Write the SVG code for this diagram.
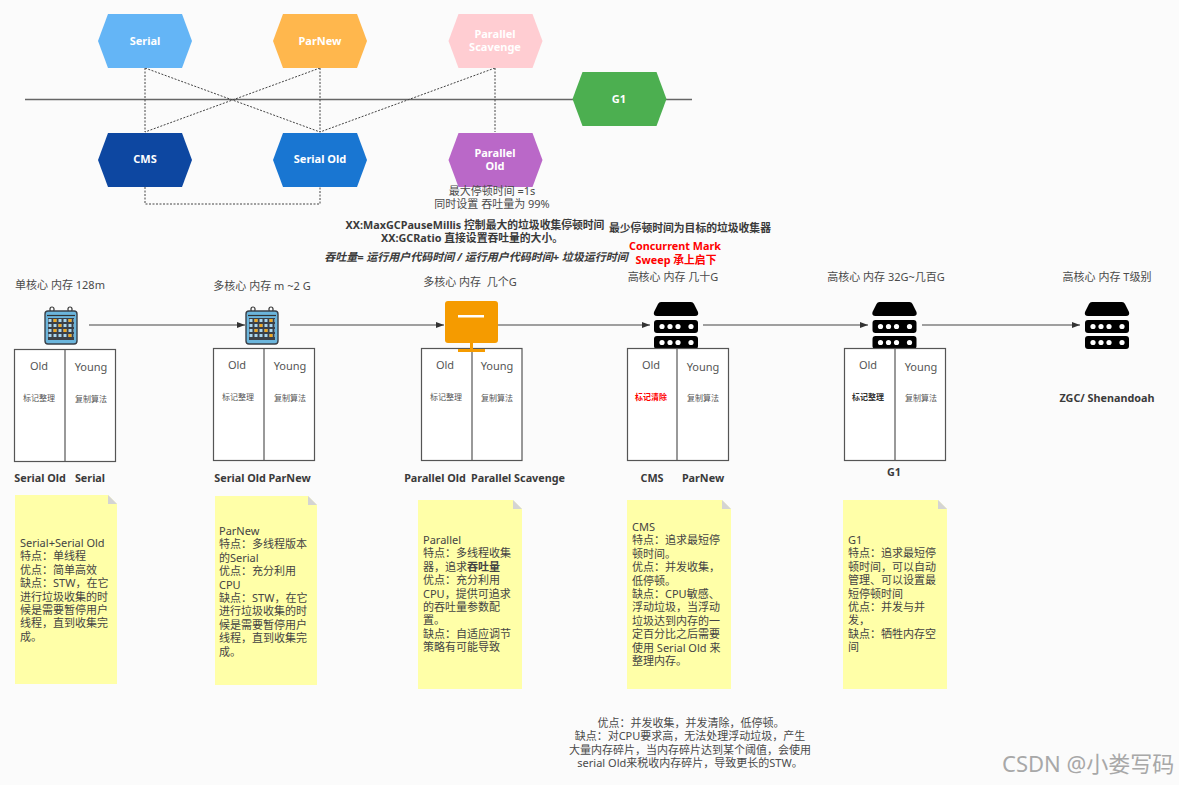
<svg xmlns="http://www.w3.org/2000/svg" width="1179" height="785" viewBox="0 0 1179 785">
<style>
text{font-family:"Noto Sans","Noto Sans CJK SC",sans-serif;fill:#4a4a4a;font-size:11px}
.c{text-anchor:middle}
.hex text{fill:#fff;font-size:11px;font-weight:700;text-anchor:middle}
.hex polygon{stroke:#fff;stroke-opacity:.5}
.b{font-weight:700;fill:#3a3a3a;text-anchor:middle;font-size:10.800px}
.mem{fill:#fff;stroke:#555;stroke-width:1.2}
.o{font-size:11px;text-anchor:middle;fill:#555}
.s{font-size:8px;text-anchor:middle;fill:#555}
.note{fill:#ffffa8}
.fold{fill:#d4d4d4}
.nt{font-size:11px;fill:#444}
.dash{fill:none;stroke:#444;stroke-width:1;stroke-dasharray:2 1.5}
.arr{stroke:#444;stroke-width:1.2;fill:none;marker-end:url(#a)}
.red{fill:#f00;font-weight:700;text-anchor:middle;font-size:10.800px}
</style>
<defs>
<marker id="a" markerWidth="8" markerHeight="6" refX="8" refY="3" orient="auto" markerUnits="userSpaceOnUse"><path d="M0 0L8 3L0 6z" fill="#333"/></marker>
<polygon id="h" points="-47,0 -37,-27 37,-27 47,0 37,27 -37,27"/>
<g id="cal">
<rect x="-11" y="-18" width="4" height="5" rx="2" fill="none" stroke="#333" stroke-width="1.2"/><rect x="7" y="-18" width="4" height="5" rx="2" fill="none" stroke="#333" stroke-width="1.2"/>
<rect x="-16" y="-14" width="32" height="33" rx="3" fill="#6bb5dc" stroke="#3a4048" stroke-width="1.4"/>
<path d="M-14-9.500H14" stroke="#333" stroke-width="1.2"/>
<rect x="-13" y="-7" width="26" height="22" fill="#3a4048"/>
<path d="M-12.500-4.500H13M-12.500 .5H13M-12.500 5.500H13M-12.500 10.500H13" stroke="#a9d6ee" stroke-width="3" stroke-dasharray="3 2"/>
<path d="M-7.500-4.500h3M-2.500 .5h3M2.500 5.500h3M7.500 10.500h3M-7.500 5.500h3M7.500-4.500h3" stroke="#f0a820" stroke-width="3"/>
</g>
<g id="srv" fill="#000">
<path d="M-15-22H15Q17-22 18-20L22-12Q23-8 19-8H-19Q-23-8-22-12L-18-20Q-17-22-15-22Z"/>
<rect x="-22" y="-4" width="44" height="13" rx="3"/>
<rect x="-22" y="12" width="44" height="13" rx="3"/>
<g fill="#fff"><circle cx="-14" cy="2.500" r="2.600"/><circle cx="-6" cy="2.500" r="2.600"/><circle cx="2" cy="2.500" r="2.600"/><circle cx="15" cy="2.500" r="2.600"/><circle cx="-14" cy="18.500" r="2.600"/><circle cx="-6" cy="18.500" r="2.600"/><circle cx="2" cy="18.500" r="2.600"/><circle cx="15" cy="18.500" r="2.600"/></g>
</g>
</defs>
<rect width="1179" height="785" fill="#fbfbfb"/>
<g id="connectors">
<path d="M25 99.500H692" stroke="#666" stroke-width="1.500" fill="none"/>
<path class="dash" d="M145 68V132M145 68L320 132M320 68L145 132M320 68V132M495 68L320 132M495 68V132M145 187V204H320V187"/>
<path class="arr" d="M89 325H245"/>
<path class="arr" d="M290 325H444"/>
<path class="arr" d="M498 325H650"/>
<path class="arr" d="M703 325H868"/>
<path class="arr" d="M922 325H1080"/>
</g>
<g id="n-serial" class="hex"><use href="#h" x="145" y="41" fill="#64b5f6"/><text x="145" y="45">Serial</text></g>
<g id="n-parnew" class="hex"><use href="#h" x="320" y="41" fill="#ffb74d"/><text x="320" y="45">ParNew</text></g>
<g id="n-scavenge" class="hex"><use href="#h" x="495.500" y="41" fill="#ffcdd2"/><text x="495" y="38">Parallel</text><text x="495" y="51">Scavenge</text></g>
<g id="n-g1" class="hex"><use href="#h" x="619.500" y="99" fill="#4caf50"/><text x="619" y="103">G1</text></g>
<g id="n-cms" class="hex"><use href="#h" x="145" y="160" fill="#0d47a1"/><text x="145" y="163">CMS</text></g>
<g id="n-serialold" class="hex"><use href="#h" x="320" y="160" fill="#1976d2"/><text x="320" y="163">Serial Old</text></g>
<g id="n-parold" class="hex"><use href="#h" x="495.500" y="160" fill="#ba68c8"/><text x="495" y="157">Parallel</text><text x="495" y="170">Old</text></g>
<g id="t-top">
<text class="c" x="492" y="195">最大停顿时间 =1s</text>
<text class="c" x="492" y="208">同时设置 吞吐量为 99%</text>
<text class="b" x="475" y="229">XX:MaxGCPauseMillis 控制最大的垃圾收集停顿时间</text>
<text class="b" x="472" y="242">XX:GCRatio 直接设置吞吐量的大小。</text>
<text class="b" x="476" y="261" font-style="italic" style="font-size:11px">吞吐量= 运行用户代码时间 / 运行用户代码时间+ 垃圾运行时间</text>
<text class="b" x="690" y="232">最少停顿时间为目标的垃圾收集器</text>
<text class="red" x="675" y="250">Concurrent Mark</text>
<text class="red" x="676" y="264">Sweep 承上启下</text>
</g>
<g id="col1">
<text class="c" x="60" y="289">单核心 内存 128m</text>
<use href="#cal" x="61" y="325"/>
<rect class="mem" x="14.500" y="349.500" width="101" height="112"/><path class="mem" d="M65 349.500V461"/>
<text class="o" x="39" y="370">Old</text><text class="o" x="91" y="371">Young</text>
<text class="s" x="39" y="401">标记整理</text><text class="s" x="91" y="402">复制算法</text>
<text class="b" x="40" y="482">Serial Old</text><text class="b" x="90" y="482">Serial</text>
<path class="note" d="M15 495H108L117 504V684H15Z"/><path class="fold" d="M108 495L117 504H108Z"/>
<text class="nt" x="20" y="547"><tspan x="20">Serial+Serial Old</tspan><tspan x="20" dy="13.400">特点&#65306;单线程</tspan><tspan x="20" dy="13.400">优点&#65306;简单高效</tspan><tspan x="20" dy="13.400">缺点&#65306;STW&#65292;在它</tspan><tspan x="20" dy="13.400">进行垃圾收集的时</tspan><tspan x="20" dy="13.400">候是需要暂停用户</tspan><tspan x="20" dy="13.400">线程&#65292;直到收集完</tspan><tspan x="20" dy="13.400">成。</tspan></text>
</g>
<g id="col2">
<text class="c" x="262" y="290">多核心 内存 m ~2 G</text>
<use href="#cal" x="262" y="325"/>
<rect class="mem" x="213.500" y="348.500" width="101" height="112"/><path class="mem" d="M264 348.500V460"/>
<text class="o" x="237" y="369">Old</text><text class="o" x="290" y="370">Young</text>
<text class="s" x="238" y="400">标记整理</text><text class="s" x="290" y="401">复制算法</text>
<text class="b" x="240" y="482">Serial Old</text><text class="b" x="289.500" y="482">ParNew</text>
<path class="note" d="M215 496H308L317 505V685H215Z"/><path class="fold" d="M308 496L317 505H308Z"/>
<text class="nt" x="219" y="535"><tspan x="219">ParNew</tspan><tspan x="219" dy="13.400">特点&#65306;多线程版本</tspan><tspan x="219" dy="13.400">的Serial</tspan><tspan x="219" dy="13.400">优点&#65306;充分利用</tspan><tspan x="219" dy="13.400">CPU</tspan><tspan x="219" dy="13.400">缺点&#65306;STW&#65292;在它</tspan><tspan x="219" dy="13.400">进行垃圾收集的时</tspan><tspan x="219" dy="13.400">候是需要暂停用户</tspan><tspan x="219" dy="13.400">线程&#65292;直到收集完</tspan><tspan x="219" dy="13.400">成。</tspan></text>
</g>
<g id="col3">
<text class="c" x="470" y="286">多核心 内存&#160; 几个G</text>
<rect class="mem" x="421.500" y="348.500" width="100.500" height="112"/><path class="mem" d="M472 348.500V460"/>
<rect x="445" y="301" width="53" height="42" rx="3" fill="#f59b00"/><rect x="458" y="315" width="26" height="2.500" fill="#fff"/><rect x="470" y="343" width="3" height="8" fill="#f59b00"/><rect x="458" y="349" width="27" height="3" fill="#f59b00"/>
<text class="o" x="445" y="369">Old</text><text class="o" x="497" y="370">Young</text>
<text class="s" x="446" y="400">标记整理</text><text class="s" x="497" y="401">复制算法</text>
<text class="b" x="435" y="482">Parallel Old</text><text class="b" x="518" y="482">Parallel Scavenge</text>
<path class="note" d="M418 500H513L522 509V689H418Z"/><path class="fold" d="M513 500L522 509H513Z"/>
<text class="nt" x="423" y="544"><tspan x="423">Parallel</tspan><tspan x="423" dy="13.400">特点&#65306;多线程收集</tspan><tspan x="423" dy="13.400">器&#65292;追求<tspan font-weight="700">吞吐量</tspan></tspan><tspan x="423" dy="13.400">优点&#65306;充分利用</tspan><tspan x="423" dy="13.400">CPU&#65292;提供可追求</tspan><tspan x="423" dy="13.400">的吞吐量参数配</tspan><tspan x="423" dy="13.400">置。</tspan><tspan x="423" dy="13.400">缺点&#65306;自适应调节</tspan><tspan x="423" dy="13.400">策略有可能导致</tspan></text>
</g>
<g id="col4">
<text class="c" x="673" y="281">高核心 内存 几十G</text>
<use href="#srv" x="676" y="324"/>
<rect class="mem" x="627.500" y="348.500" width="101" height="112"/><path class="mem" d="M677 348.500V460"/>
<text class="o" x="651" y="369">Old</text><text class="o" x="703" y="371">Young</text>
<text class="s" x="651" y="400" style="fill:#f00;font-weight:700">标记清除</text><text class="s" x="703" y="401">复制算法</text>
<text class="b" x="652" y="482">CMS</text><text class="b" x="703" y="482">ParNew</text>
<path class="note" d="M627 500H722L731 509V689H627Z"/><path class="fold" d="M722 500L731 509H722Z"/>
<text class="nt" x="632" y="531"><tspan x="632">CMS</tspan><tspan x="632" dy="13.400">特点&#65306;追求最短停</tspan><tspan x="632" dy="13.400">顿时间。</tspan><tspan x="632" dy="13.400">优点&#65306;并发收集&#65292;</tspan><tspan x="632" dy="13.400">低停顿。</tspan><tspan x="632" dy="13.400">缺点&#65306;CPU敏感、</tspan><tspan x="632" dy="13.400">浮动垃圾&#65292;当浮动</tspan><tspan x="632" dy="13.400">垃圾达到内存的一</tspan><tspan x="632" dy="13.400">定百分比之后需要</tspan><tspan x="632" dy="13.400">使用 Serial Old 来</tspan><tspan x="632" dy="13.400">整理内存。</tspan></text>
<text class="c" x="691" y="727">优点&#65306;并发收集&#65292;并发清除&#65292;低停顿。</text>
<text class="c" x="690" y="740">缺点&#65306;对CPU要求高&#65292;无法处理浮动垃圾&#65292;产生</text>
<text class="c" x="690" y="754">大量内存碎片&#65292;当内存碎片达到某个阈值&#65292;会使用</text>
<text class="c" x="690" y="767">serial Old来税收内存碎片&#65292;导致更长的STW。</text>
</g>
<g id="col5">
<text class="c" x="886" y="281">高核心 内存 32G~几百G</text>
<use href="#srv" x="894.500" y="324"/>
<rect class="mem" x="844.500" y="348.500" width="101" height="112"/><path class="mem" d="M895 348.500V460"/>
<text class="o" x="868" y="369">Old</text><text class="o" x="921" y="371">Young</text>
<text class="s" x="868" y="400" style="font-weight:700;fill:#333">标记整理</text><text class="s" x="921" y="401">复制算法</text>
<text class="b" x="894" y="476">G1</text>
<path class="note" d="M843 500H938L947 509V689H843Z"/><path class="fold" d="M938 500L947 509H938Z"/>
<text class="nt" x="848" y="544"><tspan x="848">G1</tspan><tspan x="848" dy="13.400">特点&#65306;追求最短停</tspan><tspan x="848" dy="13.400">顿时间&#65292;可以自动</tspan><tspan x="848" dy="13.400">管理、可以设置最</tspan><tspan x="848" dy="13.400">短停顿时间</tspan><tspan x="848" dy="13.400">优点&#65306;并发与并</tspan><tspan x="848" dy="13.400">发&#65292;</tspan><tspan x="848" dy="13.400">缺点&#65306;牺牲内存空</tspan><tspan x="848" dy="13.400">间</tspan></text>
</g>
<g id="col6">
<text class="c" x="1107" y="281">高核心 内存 T级别</text>
<use href="#srv" x="1107" y="324"/>
<text class="b" x="1107" y="402">ZGC/ Shenandoah</text>
</g>
<text x="1002" y="772" style="font-size:22px;fill:#a8a8a8">CSDN @小娄写码</text>
</svg>
